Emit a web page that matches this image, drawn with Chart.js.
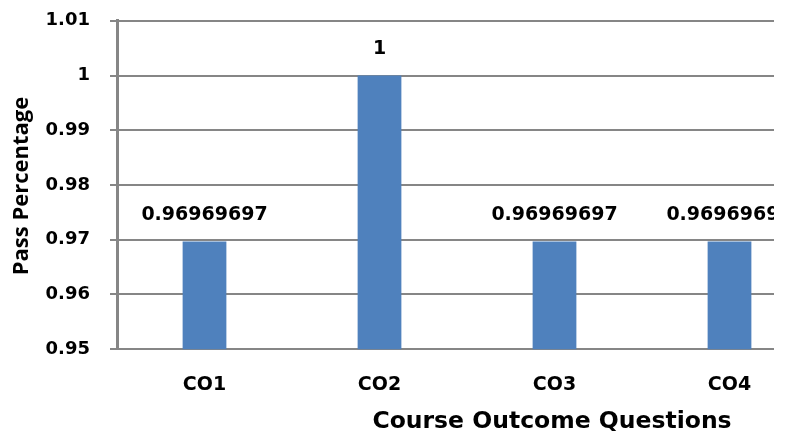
<!DOCTYPE html>
<html>
<head>
<meta charset="utf-8">
<script src="https://cdn.jsdelivr.net/npm/chart.js@4"></script>
<style>
  body { margin: 0; background: #fff; }
  #wrap { width: 774px; height: 438px; overflow: hidden; }
  #chart { display: block; margin-top: -10px; }
</style>
</head>
<body>
<div id="wrap"><canvas id="chart" width="830" height="448"></canvas></div>
<script>
const categories = ['CO1', 'CO2', 'CO3', 'CO4'];
const passValues = [0.96969697, 1, 0.96969697, 0.96969697];
const yMin = 0.95, yMax = 1.01, yStep = 0.01;
const xTitle = 'Course Outcome Questions';
const yTitle = 'Pass Percentage';

const FONT = "'DejaVu Sans', sans-serif";

// value labels above the bars
const barLabels = {
    id: 'barLabels',
    afterDatasetsDraw(chart) {
        const ctx = chart.ctx;
        const meta = chart.getDatasetMeta(0);
        ctx.save();
        ctx.font = 'bold 19px ' + FONT;
        ctx.fillStyle = '#000';
        ctx.textAlign = 'center';
        ctx.textBaseline = 'middle';
        meta.data.forEach((bar, i) => {
            ctx.fillText(String(passValues[i]), bar.x, bar.y - 26);
        });
        ctx.restore();
    }
};

// axis titles, placed like the original (x title is off-centre there)
// canvas is shifted up 10px, hence the +10 on y
const axisTitles = {
    id: 'axisTitles',
    afterDraw(chart) {
        const ctx = chart.ctx;
        ctx.save();
        ctx.fillStyle = '#000';
        ctx.textAlign = 'center';
        ctx.textBaseline = 'middle';
        ctx.font = 'bold 23.5px ' + FONT;
        ctx.fillText(xTitle, 552, 432);
        ctx.translate(22, 196);
        ctx.rotate(-Math.PI / 2);
        ctx.font = "bold 22px 'Open Sans', sans-serif";
        ctx.fillText(yTitle, 0, 0);
        ctx.restore();
    }
};

new Chart(document.getElementById('chart'), {
    type: 'bar',
    data: {
        labels: categories,
        datasets: [{
            data: passValues,
            backgroundColor: '#4F81BD',
            borderWidth: 0,
            barPercentage: 0.5,
            categoryPercentage: 0.5
        }]
    },
    options: {
        responsive: false,
        animation: false,
        devicePixelRatio: 1,
        layout: { padding: { top: 0, right: 13, bottom: 26, left: 0 } },
        plugins: { legend: { display: false }, tooltip: { enabled: false } },
        scales: {
            x: {
                grid: { display: false },
                border: { color: '#868686', width: 2 },
                ticks: { color: '#000', font: { family: FONT, weight: 'bold', size: 19 }, padding: 16 }
            },
            y: {
                min: yMin,
                max: yMax,
                afterFit: scale => { scale.width = 117; },
                ticks: {
                    stepSize: yStep,
                    color: '#000',
                    font: { family: FONT, weight: 'bold', size: 18 },
                    padding: 20,
                    callback: v => String(Number(v.toFixed(2)))
                },
                grid: { color: '#868686', lineWidth: 2, tickLength: 7 },
                border: { color: '#868686', width: 3 }
            }
        }
    },
    plugins: [barLabels, axisTitles]
});
</script>
</body>
</html>
